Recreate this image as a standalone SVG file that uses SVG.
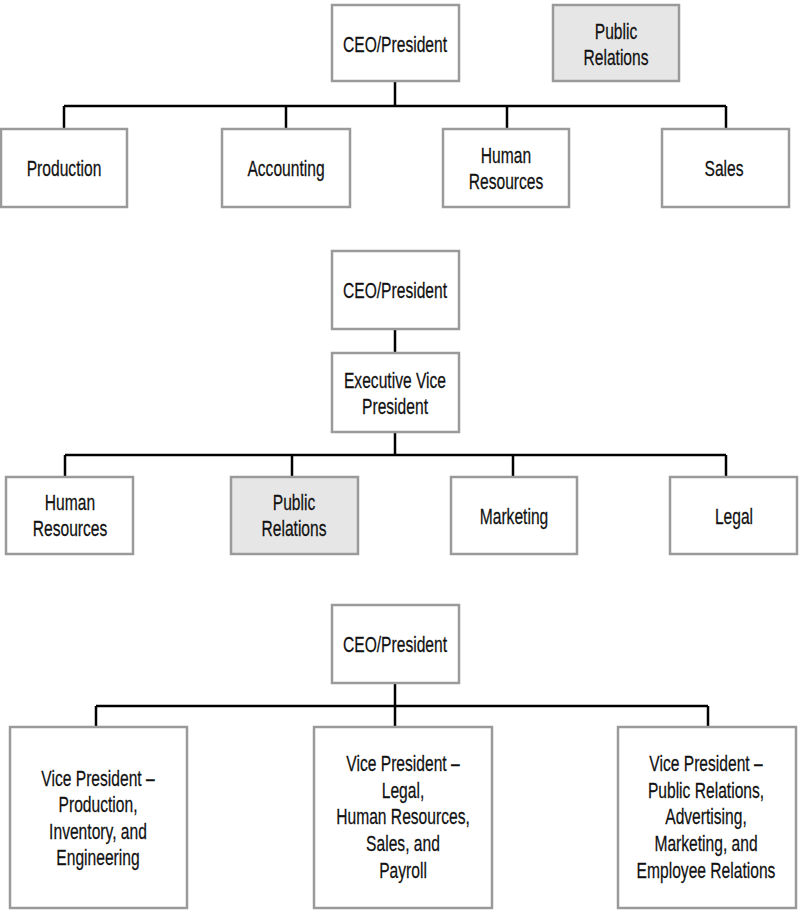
<svg xmlns="http://www.w3.org/2000/svg" width="800" height="913" viewBox="0 0 800 913">
<style>
.box{fill:#fff;stroke:#9a9a9a;stroke-width:2.5}
.gray{fill:#e6e6e6}
text{font-family:"Liberation Sans",Arial,sans-serif;font-size:22px;fill:#111;stroke:#111;stroke-width:0.25;text-anchor:middle}
.c{fill:none;stroke:#000;stroke-width:2.5}
</style>
<rect width="800" height="913" fill="#fff"/>
<g id="connectors">
<path class="c" d="M395 82V106M64 106H726M64 106V129M286 106V129M507 106V129M726 106V129"/>
<path class="c" d="M395 329V353M395 432V455M65 455H726M65 455V477M292 455V477M513 455V477M726 455V477"/>
<path class="c" d="M395 683V727M96 706H708M96 706V727M708 706V727"/>
</g>
<g id="ceo1"><rect class="box" x="332" y="5" width="127" height="76"/><text transform="translate(395 51.5) scale(0.71 1)">CEO/President</text></g>
<g id="pr1"><rect class="box gray" x="553" y="5" width="126" height="76"/><text transform="translate(616 38.5) scale(0.71 1)">Public</text><text transform="translate(616 64.5) scale(0.71 1)">Relations</text></g>
<g id="production"><rect class="box" x="1" y="129" width="126" height="78"/><text transform="translate(64 175.5) scale(0.71 1)">Production</text></g>
<g id="accounting"><rect class="box" x="222" y="129" width="128" height="78"/><text transform="translate(286 175.5) scale(0.71 1)">Accounting</text></g>
<g id="hr1"><rect class="box" x="443" y="129" width="126" height="78"/><text transform="translate(506 162.5) scale(0.71 1)">Human</text><text transform="translate(506 188.5) scale(0.71 1)">Resources</text></g>
<g id="sales"><rect class="box" x="662" y="129" width="127" height="78"/><text transform="translate(724 175.5) scale(0.71 1)">Sales</text></g>

<g id="ceo2"><rect class="box" x="332" y="251" width="127" height="78"/><text transform="translate(395 297.5) scale(0.71 1)">CEO/President</text></g>
<g id="evp"><rect class="box" x="332" y="353" width="127" height="79"/><text transform="translate(395 387.5) scale(0.71 1)">Executive Vice</text><text transform="translate(395 413.5) scale(0.71 1)">President</text></g>
<g id="hr2"><rect class="box" x="6" y="477" width="127" height="77"/><text transform="translate(70 509.5) scale(0.71 1)">Human</text><text transform="translate(70 535.5) scale(0.71 1)">Resources</text></g>
<g id="pr2"><rect class="box gray" x="231" y="477" width="127" height="77"/><text transform="translate(294 509.5) scale(0.71 1)">Public</text><text transform="translate(294 535.5) scale(0.71 1)">Relations</text></g>
<g id="marketing"><rect class="box" x="451" y="477" width="126" height="77"/><text transform="translate(514 523.5) scale(0.71 1)">Marketing</text></g>
<g id="legal"><rect class="box" x="670" y="477" width="127" height="77"/><text transform="translate(734 523.5) scale(0.71 1)">Legal</text></g>

<g id="ceo3"><rect class="box" x="332" y="605" width="127" height="78"/><text transform="translate(395 651.5) scale(0.71 1)">CEO/President</text></g>
<g id="vp1"><rect class="box" x="10" y="727" width="177" height="181"/><text transform="translate(98 785.5) scale(0.71 1)">Vice President –</text><text transform="translate(98 812) scale(0.71 1)">Production,</text><text transform="translate(98 838.5) scale(0.71 1)">Inventory, and</text><text transform="translate(98 865) scale(0.71 1)">Engineering</text></g>
<g id="vp2"><rect class="box" x="314" y="727" width="178" height="181"/><text transform="translate(403 771) scale(0.71 1)">Vice President –</text><text transform="translate(403 797.5) scale(0.71 1)">Legal,</text><text transform="translate(403 824) scale(0.71 1)">Human Resources,</text><text transform="translate(403 851) scale(0.71 1)">Sales, and</text><text transform="translate(403 877.5) scale(0.71 1)">Payroll</text></g>
<g id="vp3"><rect class="box" x="618" y="727" width="178" height="181"/><text transform="translate(706 771) scale(0.71 1)">Vice President –</text><text transform="translate(706 797.5) scale(0.71 1)">Public Relations,</text><text transform="translate(706 824) scale(0.71 1)">Advertising,</text><text transform="translate(706 851) scale(0.71 1)">Marketing, and</text><text transform="translate(706 877.5) scale(0.71 1)">Employee Relations</text></g>
</svg>
